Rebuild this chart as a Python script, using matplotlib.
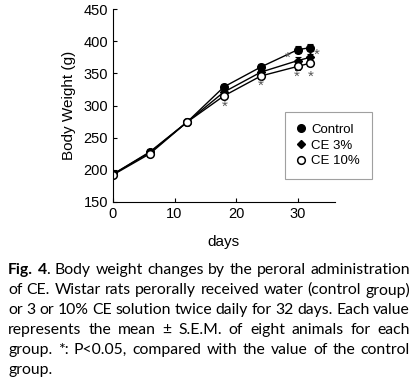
import matplotlib
matplotlib.use("Agg")
import matplotlib.pyplot as plt
from matplotlib.lines import Line2D

# datos
days = [0, 6, 12, 18, 24, 30, 32]
control = [193, 228, 274, 329, 360, 387, 390]
ce3 = [193, 227, 274, 321, 352, 370, 375]
ce10 = [192, 225, 274, 315, 346, 361, 366]
err_control = [3, 4, 3, 4, 5, 6, 5]
err_ce3 = [3, 4, 3, 4, 4, 5, 5]
err_ce10 = [3, 5, 3, 4, 4, 5, 5]

# asteriscos (dia, peso)
stars_x = [18.2, 24.0, 28.4, 29.8, 32.0, 33.0]
stars_y = [298, 330, 375, 345, 345, 379]

yticks = [150, 200, 250, 300, 350, 400, 450]
xticks = [0, 10, 20, 30]

caption = [
    [[("Fig.", "bold")], [("4", "bold"), (".", "normal")], "Body", "weight", "changes", "by", "the", "peroral", "administration"],
    ["of", "CE.", "Wistar", "rats", "perorally", "received", "water", "(control", "group)"],
    ["or", "3", "or", "10%", "CE", "solution", "twice", "daily", "for", "32", "days.", "Each", "value"],
    ["represents", "the", "mean", "\u00b1", "S.E.M.", "of", "eight", "animals", "for", "each"],
    ["group.", "*:", "P<0.05,", "compared", "with", "the", "value", "of", "the", "control"],
    ["group."],
]

plt.rcParams['font.family'] = ['Liberation Sans', 'DejaVu Sans']
fig = plt.figure(figsize=(4.15, 3.81), dpi=100)
ax = fig.add_axes([0.272, 0.470, 0.535, 0.506])

kw = dict(color='black', lw=1.0, capsize=2.5, elinewidth=0.8, capthick=0.8)
ax.errorbar(days, control, yerr=err_control, marker='o', ms=5.5, mfc='black', mec='black', **kw)
ax.errorbar(days, ce3, yerr=err_ce3, marker='D', ms=3.8, mfc='black', mec='black', **kw)
ax.errorbar(days, ce10, yerr=err_ce10, marker='o', ms=5.5, mfc='white', mec='black', mew=1.1, **kw)

for sx, sy in zip(stars_x, stars_y):
    ax.text(sx, sy, '*', ha='center', va='center', fontsize=11, color='#555555')

ax.set_xlim(0, 36)
ax.set_ylim(150, 450)
ax.set_xticks(xticks)
ax.set_yticks(yticks)
ax.tick_params(direction='in', length=3, labelsize=10.5, width=0.8)
ax.spines['top'].set_visible(False)
ax.spines['right'].set_visible(False)
ax.set_ylabel('Body Weight (g)', fontsize=11, labelpad=5)
ax.set_xlabel('days', fontsize=11, labelpad=10)

handles = [
    Line2D([], [], ls='none', marker='o', ms=5.5, mfc='black', mec='black'),
    Line2D([], [], ls='none', marker='D', ms=3.8, mfc='black', mec='black'),
    Line2D([], [], ls='none', marker='o', ms=5.5, mfc='white', mec='black', mew=1.1),
]
leg = fig.legend(handles=handles, labels=['Control', 'CE 3%', 'CE 10%'],
                 loc='upper left', bbox_to_anchor=(285 / 415, 1 - 112 / 381),
                 fontsize=9.5, frameon=True, fancybox=False, edgecolor='#888888',
                 handlelength=0.7, handletextpad=0.4, borderpad=0.9, labelspacing=0.25,
                 borderaxespad=0)
leg.get_frame().set_linewidth(0.8)

# pie de figura justificado
fig.canvas.draw()
renderer = fig.canvas.get_renderer()
cap_font = ['Lato', 'DejaVu Sans']
cap_size = 11.3
left, right = 8, 410
y0 = 270
line_h = 20


def word_width(segs):
    total = 0
    for t, w in segs:
        tt = fig.text(0, 0, t, fontsize=cap_size, family=cap_font, weight=w)
        total += tt.get_window_extent(renderer).width
        tt.remove()
    return total


for i, line in enumerate(caption):
    words = [[(w, "normal")] if isinstance(w, str) else w for w in line]
    widths = [word_width(w) for w in words]
    y = 381 - (y0 + i * line_h)
    if i < len(caption) - 1 and len(words) > 1:
        gap = (right - left - sum(widths)) / (len(words) - 1)
    else:
        gap = 4
    x = left
    for segs, wd in zip(words, widths):
        xx = x
        for t, w in segs:
            tt = fig.text(xx / 415, y / 381, t, fontsize=cap_size, family=cap_font, weight=w, va='center', ha='left')
            xx += tt.get_window_extent(renderer).width
        x += wd + gap

fig.savefig('out.png', dpi=100)
